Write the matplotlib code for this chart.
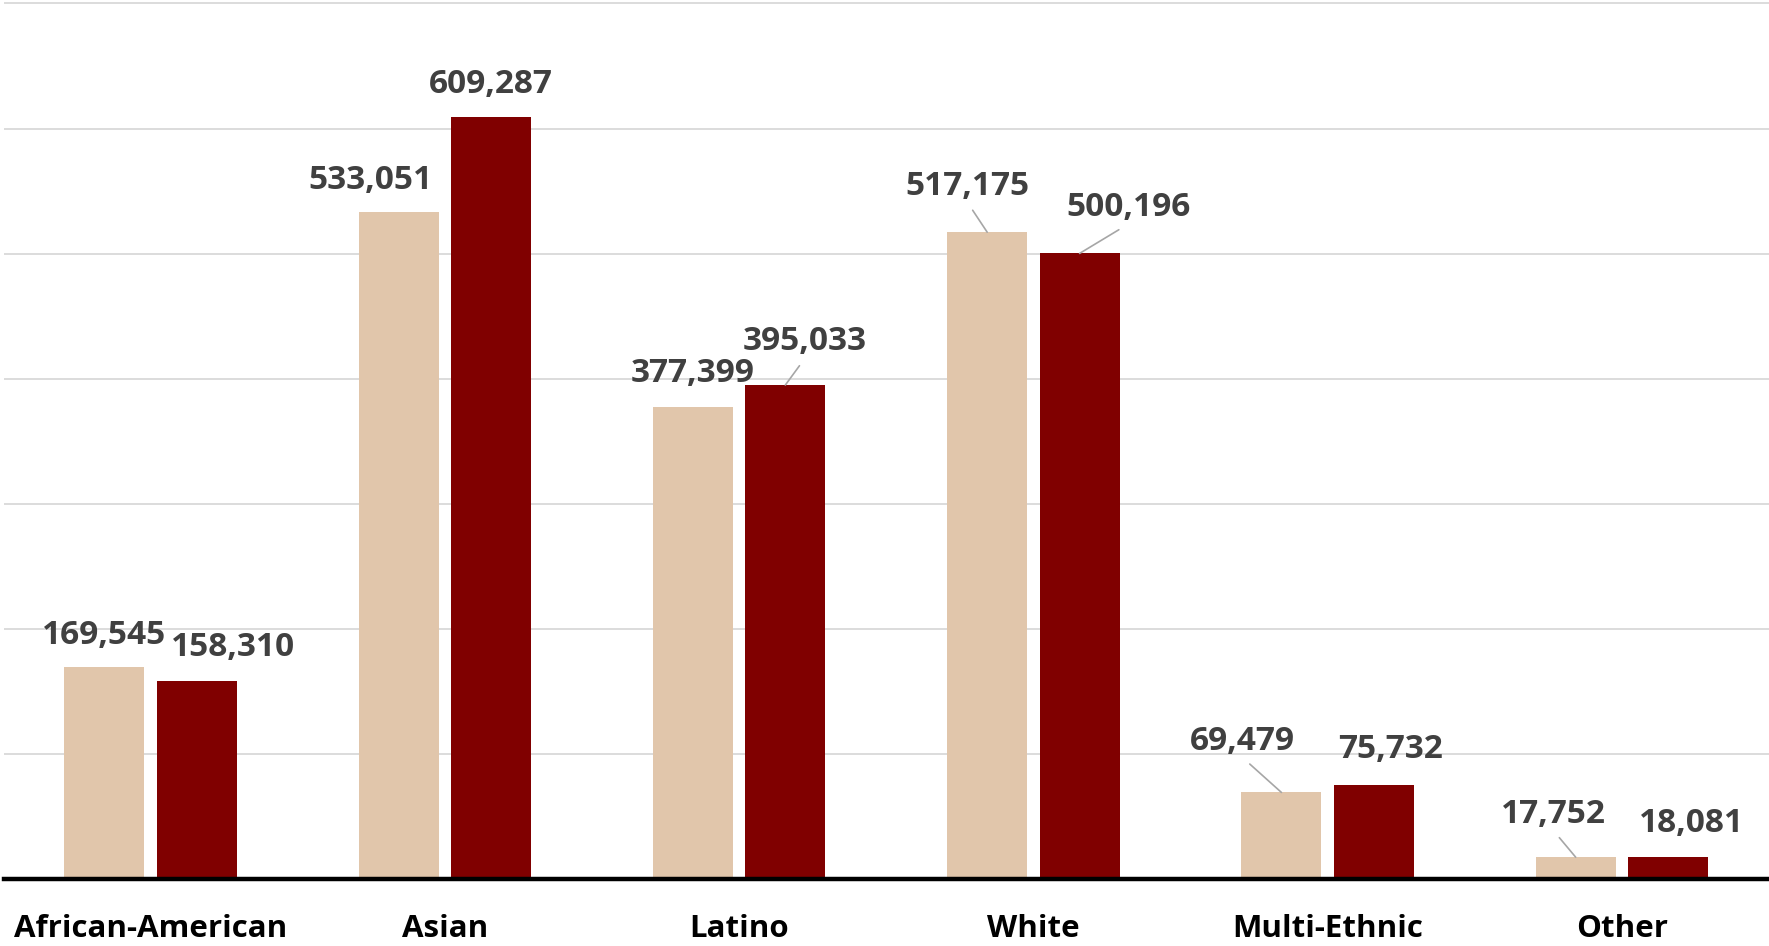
import matplotlib.pyplot as plt
import numpy as np

categories = ["African-American", "Asian", "Latino", "White", "Multi-Ethnic", "Other"]
series_a = [169545, 533051, 377399, 517175, 69479, 17752]
series_b = [158310, 609287, 395033, 500196, 75732, 18081]

# label offsets (points) from bar top centre, and whether a leader line is drawn
offs_a = [(0, 23), (-20, 23), (0, 24), (-14, 33), (-28, 37), (-16, 31)]
lead_a = [False, False, False, True, True, True]
offs_b = [(26, 24), (0, 23), (14, 31), (35, 33), (12, 25), (17, 24)]
lead_b = [False, False, True, True, False, False]

col_a = "#E1C6AB"
col_b = "#800000"
txt_col = "#404040"
lead_col = "#A6A6A6"

plt.rcParams['font.family'] = ['Open Sans', 'DejaVu Sans']

fig = plt.figure(figsize=(17.69, 9.46), dpi=100)
ax = fig.add_axes([0.002, 0.0704, 0.998, 0.9296])

x = np.arange(len(categories))
w = 0.272
d = 0.157
bars_a = ax.bar(x - d, series_a, w, color=col_a, zorder=2)
bars_b = ax.bar(x + d, series_b, w, color=col_b, zorder=2)

ax.set_xlim(-0.5, 5.5)
ax.set_ylim(0, 702700)
ax.set_yticks(np.arange(100000, 700001, 100000))
ax.yaxis.grid(True, color="#D9D9D9", linewidth=1.3, zorder=0)
ax.tick_params(axis='y', left=False, labelleft=False)
for s in ["top", "right", "left"]:
    ax.spines[s].set_visible(False)
ax.spines["bottom"].set_linewidth(3.2)
ax.spines["bottom"].set_color("black")
ax.spines["bottom"].set_zorder(3)

ax.set_xticks(x)
ax.set_xticklabels(categories, fontsize=22.5, fontweight='bold', color='black')
ax.tick_params(axis='x', length=0, pad=25)

def label(bars, vals, offs, leads):
    for b, v, o, l in zip(bars, vals, offs, leads):
        xc = b.get_x() + b.get_width() / 2
        yt = b.get_height()
        kw = {}
        if l:
            kw['arrowprops'] = dict(arrowstyle='-', color=lead_col, lw=1.2,
                                    shrinkA=4, shrinkB=0, relpos=(0.5, 0))
        ax.annotate(f"{v:,}", (xc, yt), xytext=o, textcoords='offset points',
                    ha='center', va='center', fontsize=24, fontweight='bold',
                    color=txt_col, zorder=4, **kw)

label(bars_a, series_a, offs_a, lead_a)
label(bars_b, series_b, offs_b, lead_b)

fig.savefig("out.png", dpi=100)
